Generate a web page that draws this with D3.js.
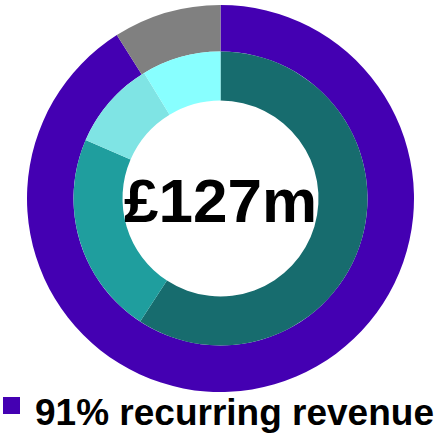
<!DOCTYPE html>
<html><head><meta charset="utf-8">
<script src="https://cdn.jsdelivr.net/npm/d3@7"></script>
<style>html,body{margin:0;padding:0;background:#fff;}</style>
</head><body>
<svg id="chart" width="436" height="433"></svg>
<script>
const outerCategories = ["Recurring", "Non-recurring"];
const outerValues = [91, 9];
const outerColors = ["#4400B2", "#808080"];
const innerCategories = ["Segment A", "Segment B", "Segment C", "Segment D"];
const innerValues = [59.2, 22.3, 9.8, 8.7];
const innerColors = ["#176C6E", "#1F9E9E", "#7FE4E4", "#88FFFF"];
const centerLabel = "£127m";
const legendLabel = "91% recurring revenue";

const svg = d3.select("#chart");
const cx = 220.5, cy = 198.5;
const g = svg.append("g").attr("transform", `translate(${cx},${cy})`);
const pie = d3.pie().sort(null).value(d => d);

const outerArc = d3.arc().innerRadius(147).outerRadius(193.5);
const innerArc = d3.arc().innerRadius(98).outerRadius(147);

g.selectAll("path.outer").data(pie(outerValues)).enter().append("path")
  .attr("class", "outer").attr("d", outerArc).attr("fill", (d, i) => outerColors[i]);
g.selectAll("path.inner").data(pie(innerValues)).enter().append("path")
  .attr("class", "inner").attr("d", innerArc).attr("fill", (d, i) => innerColors[i]);

g.append("text").attr("x", 0).attr("y", 23.5).attr("text-anchor", "middle")
  .style("font-family", "'Liberation Sans', Arial, sans-serif").style("font-weight", "bold")
  .style("font-size", "62px").attr("fill", "#000").text(centerLabel);

svg.append("rect").attr("x", 3).attr("y", 397).attr("width", 17).attr("height", 17).attr("fill", outerColors[0]);
svg.append("text").attr("x", 35).attr("y", 425)
  .style("font-family", "'Liberation Sans', Arial, sans-serif").style("font-weight", "bold")
  .style("font-size", "37px").attr("fill", "#000").text(legendLabel);
</script>
</body></html>
